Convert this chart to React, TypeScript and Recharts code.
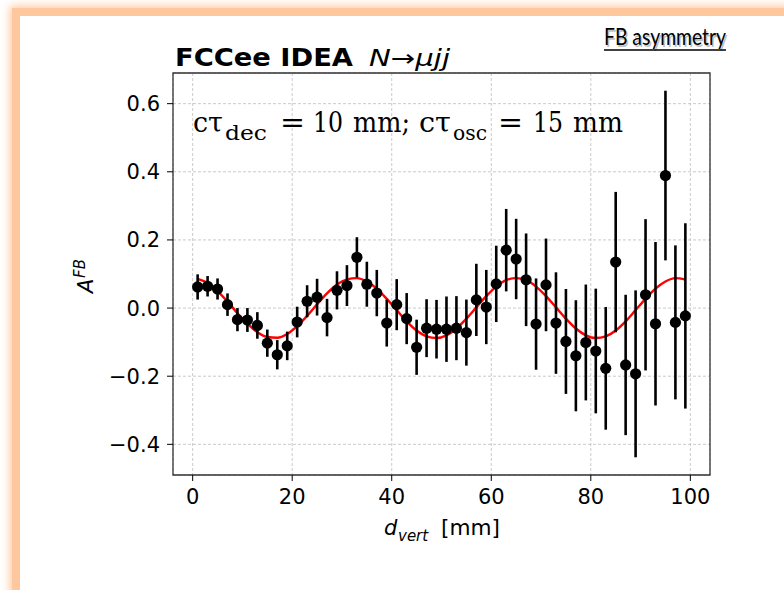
import React from "react";
import {
  ComposedChart,
  Line,
  Scatter,
  ErrorBar,
  XAxis,
  YAxis,
  CartesianGrid,
  ReferenceArea,
} from "recharts";

// ---- data ----
const dVert = [
  1, 3, 5, 7, 9, 11, 13, 15, 17, 19, 21, 23, 25, 27, 29, 31, 33, 35, 37, 39,
  41, 43, 45, 47, 49, 51, 53, 55, 57, 59, 61, 63, 65, 67, 69, 71, 73, 75, 77,
  79, 81, 83, 85, 87, 89, 91, 93, 95, 97, 99,
];
const aFB = [
  0.062, 0.064, 0.056, 0.01, -0.034, -0.035, -0.051, -0.103, -0.137, -0.111,
  -0.041, 0.02, 0.032, -0.028, 0.052, 0.066, 0.149, 0.07, 0.044, -0.044,
  0.01, -0.031, -0.115, -0.059, -0.062, -0.062, -0.059, -0.072, 0.024, 0.003,
  0.071, 0.17, 0.144, 0.083, -0.047, 0.068, -0.044, -0.098, -0.14, -0.101,
  -0.126, -0.177, 0.135, -0.167, -0.193, 0.039, -0.046, 0.389, -0.042, -0.023,
];
const aFBErr = [
  0.037, 0.03, 0.031, 0.033, 0.034, 0.035, 0.039, 0.04, 0.043, 0.042, 0.045,
  0.047, 0.054, 0.055, 0.056, 0.06, 0.059, 0.066, 0.068, 0.069, 0.075, 0.075,
  0.081, 0.085, 0.086, 0.096, 0.094, 0.097, 0.106, 0.109, 0.112, 0.121, 0.118,
  0.136, 0.134, 0.136, 0.149, 0.154, 0.163, 0.17, 0.183, 0.18, 0.206, 0.206,
  0.245, 0.222, 0.24, 0.249, 0.226, 0.272,
];
const fitCurve = [
  0.086, 0.074, 0.05, 0.019, -0.015, -0.046, -0.071, -0.085, -0.087, -0.076,
  -0.053, -0.023, 0.011, 0.043, 0.069, 0.084, 0.088, 0.078, 0.057, 0.027,
  -0.006, -0.039, -0.066, -0.083, -0.088, -0.08, -0.06, -0.031, 0.002, 0.035,
  0.063, 0.082, 0.088, 0.082, 0.063, 0.035, 0.002, -0.031, -0.06, -0.08,
  -0.088, -0.083, -0.066, -0.039, -0.006, 0.027, 0.057, 0.078, 0.088, 0.084,
];
const xTicks = [0, 20, 40, 60, 80, 100];
const yTicks = [-0.4, -0.2, 0, 0.2, 0.4, 0.6];
const xDomain = [-3.95, 103.95];
const yDomain = [-0.49, 0.69];

const points = dVert.map((x, i) => ({ x, y: aFB[i], err: aFBErr[i] }));
const curve = dVert.map((x, i) => ({ x, fit: fitCurve[i] }));

const fmtY = (v: number) => v.toFixed(1).replace("-", "\u2212");

const tickStyle = { fill: "#000", fontSize: 21, fontFamily: "DejaVu Sans" };

const Dot = (props: any) => {
  const { cx, cy } = props;
  if (cx == null || cy == null) return null;
  return <circle cx={cx} cy={cy} r={5.6} fill="#000" />;
};

const SERIF = "DejaVu Serif";

export default function App() {
  return (
    <div
      style={{
        position: "fixed",
        left: 0,
        top: 0,
        width: 784,
        height: 590,
        background: "#fff",
        overflow: "hidden",
      }}
    >
      <div
        style={{
          position: "absolute",
          left: 12,
          top: 8,
          width: 900,
          height: 800,
          background: "#FFC79E",
          boxShadow: "0 0 9px 2px #FFC79E",
        }}
      />
      <div
        style={{
          position: "absolute",
          left: 20,
          top: 16,
          width: 900,
          height: 800,
          background: "#fff",
        }}
      />
      <div style={{ position: "absolute", left: 0, top: 0 }}>
        <ComposedChart
          width={784}
          height={590}
          margin={{ top: 73, right: 74, bottom: 75, left: 113 }}
        >
          <CartesianGrid
            stroke="#bcbcbc"
            strokeDasharray="3 2"
            strokeWidth={0.8}
          />
          <XAxis
            dataKey="x"
            type="number"
            domain={xDomain}
            ticks={xTicks}
            allowDataOverflow
            height={40}
            axisLine={false}
            tickLine={{ stroke: "#000", strokeWidth: 1 }}
            tickSize={6}
            tickMargin={8}
            tick={tickStyle}
          />
          <YAxis
            type="number"
            domain={yDomain}
            ticks={yTicks}
            allowDataOverflow
            width={60}
            axisLine={false}
            tickLine={{ stroke: "#000", strokeWidth: 1 }}
            tickSize={6}
            tickMargin={7}
            tick={tickStyle}
            tickFormatter={fmtY}
          />
          <Line
            data={curve}
            dataKey="fit"
            type="monotone"
            stroke="#ff0000"
            strokeWidth={2.4}
            dot={false}
            activeDot={false}
            isAnimationActive={false}
          />
          <Scatter
            data={points}
            dataKey="y"
            shape={Dot}
            isAnimationActive={false}
          >
            <ErrorBar
              dataKey="err"
              direction="y"
              width={0}
              stroke="#000"
              strokeWidth={2.6}
            />
          </Scatter>
          <ReferenceArea
            x1={xDomain[0]}
            x2={xDomain[1]}
            y1={yDomain[0]}
            y2={yDomain[1]}
            fill="none"
            fillOpacity={0}
            stroke="#333"
            strokeWidth={1.3}
            ifOverflow="visible"
          />
        </ComposedChart>
      </div>
      <svg
        width={784}
        height={590}
        style={{ position: "absolute", left: 0, top: 0, pointerEvents: "none" }}
      >
        {/* title */}
        <text
          x={175}
          y={66}
          fontFamily="DejaVu Sans"
          fontWeight="bold"
          fontSize={25}
          textLength={178}
          lengthAdjust="spacingAndGlyphs"
          fill="#000"
        >
          FCCee IDEA
        </text>
        <text
          x={369}
          y={66}
          fontFamily="DejaVu Sans"
          fontStyle="italic"
          fontSize={23}
          textLength={81}
          lengthAdjust="spacingAndGlyphs"
          fill="#000"
        >
          N→μjj
        </text>
        {/* slide tag */}
        <text
          x={605.5}
          y={46.5}
          fontFamily="Lato"
          fontSize={24}
          textLength={122}
          lengthAdjust="spacingAndGlyphs"
          fill="#777"
          opacity={0.45}
        >
          FB asymmetry
        </text>
        <text
          x={604}
          y={45}
          fontFamily="Lato"
          fontSize={24}
          textLength={122}
          lengthAdjust="spacingAndGlyphs"
          fill="#000"
        >
          FB asymmetry
        </text>
        <line x1={604} x2={726} y1={50} y2={50} stroke="#000" strokeWidth={1.6} />
        {/* annotation */}
        <g fontFamily={SERIF} fill="#000">
          <text x={193} y={132} fontSize={27} textLength={30} lengthAdjust="spacingAndGlyphs">cτ</text>
          <text x={225} y={139.5} fontSize={20} textLength={42} lengthAdjust="spacingAndGlyphs">dec</text>
          <text x={280} y={132} fontSize={27} textLength={25} lengthAdjust="spacingAndGlyphs">=</text>
          <text x={313} y={132} fontSize={27} textLength={30} lengthAdjust="spacingAndGlyphs">10</text>
          <text x={353} y={132} fontSize={27} textLength={57} lengthAdjust="spacingAndGlyphs">mm;</text>
          <text x={419} y={132} fontSize={27} textLength={32} lengthAdjust="spacingAndGlyphs">cτ</text>
          <text x={453} y={139.5} fontSize={20} textLength={34} lengthAdjust="spacingAndGlyphs">osc</text>
          <text x={498} y={132} fontSize={27} textLength={25} lengthAdjust="spacingAndGlyphs">=</text>
          <text x={533} y={132} fontSize={27} textLength={30} lengthAdjust="spacingAndGlyphs">15</text>
          <text x={573} y={132} fontSize={27} textLength={50} lengthAdjust="spacingAndGlyphs">mm</text>
        </g>
        {/* x label */}
        <g fontFamily="DejaVu Sans" fill="#000">
          <text x={384} y={535} fontSize={21} fontStyle="italic">d</text>
          <text x={398} y={541} fontSize={15} fontStyle="italic">vert</text>
          <text x={441} y={535} fontSize={21} textLength={59} lengthAdjust="spacingAndGlyphs">[mm]</text>
        </g>
        {/* y label */}
        <g transform="translate(93,293) rotate(-90)" fontFamily="DejaVu Sans" fill="#000">
          <text x={0} y={0} fontSize={21} fontStyle="italic">A</text>
          <text x={15} y={-8} fontSize={15} fontStyle="italic">FB</text>
        </g>
      </svg>
    </div>
  );
}
